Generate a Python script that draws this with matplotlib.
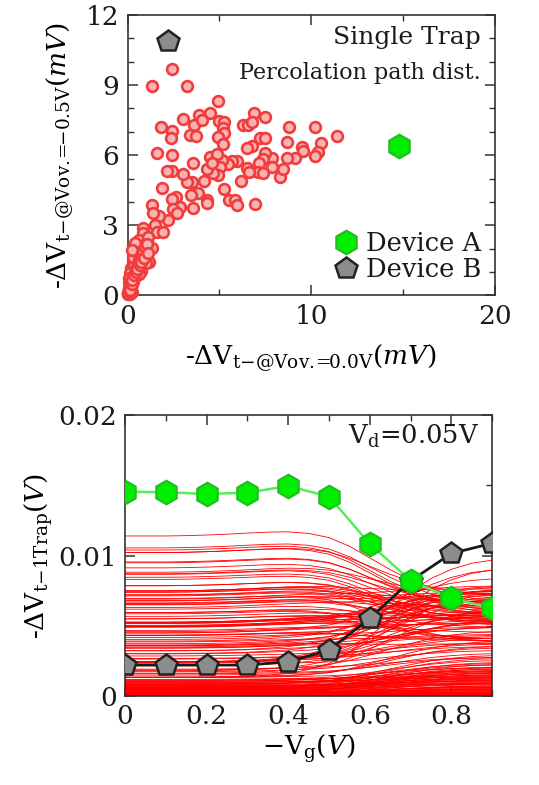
import numpy as np
import matplotlib
matplotlib.use("Agg")
import matplotlib.pyplot as plt
from matplotlib.ticker import MultipleLocator, FixedLocator, FixedFormatter
from matplotlib.lines import Line2D

plt.rcParams['font.family'] = ['DejaVu Serif']
plt.rcParams['mathtext.fontset'] = 'dejavuserif'

# ---------------- data ----------------
# Scatter: -dVt at Vov=0.0V (mV) vs -dVt at Vov=-0.5V (mV), one point per device
scatter_x = [1.33, 2.43, 3.22, 4.94, 1.80, 2.43, 2.34, 3.03, 3.91, 4.49, 3.63, 4.03, 3.40, 3.72,
             5.00, 5.25, 5.18, 5.25, 4.94, 6.30, 6.58, 6.90, 7.48, 6.76, 7.21, 7.48, 6.79, 6.52,
             8.81, 8.70, 10.21, 11.39, 10.54, 10.39, 10.21, 9.48, 9.54, 9.12, 8.66, 8.30, 8.45,
             7.85, 7.85, 7.48, 7.39, 7.18, 7.12, 7.39, 6.49, 6.63, 6.18, 5.94, 5.67, 5.49, 5.21,
             5.16, 5.03, 4.94, 4.67, 4.49, 4.89, 4.31, 4.58, 4.16, 3.58, 3.49, 3.22, 3.00, 2.43,
             2.16, 1.62, 2.40, 1.85, 5.25, 5.50, 5.85, 5.94, 6.94, 4.31, 4.34, 3.85, 3.43, 3.58,
             2.85, 2.63, 2.40, 2.45, 2.67, 2.22, 1.73, 1.31, 1.36, 1.49, 1.58, 1.91, 0.82, 0.82,
             0.64, 1.04, 0.58, 1.31, 0.94, 0.49, 0.31, 0.54, 0.16, 0.13, 0.09, 0.07, 0.05, 0.04,
             0.40, 0.67, 1.18, 0.99, 0.58, 0.35, 0.27, 1.13, 0.22, 0.30, 0.18, 0.45, 0.75, 0.12,
             0.25, 0.60, 0.10, 0.20, 0.08,
             0.03, 0.06, 0.11, 0.15, 0.02, 0.05, 0.09, 0.14, 0.19, 0.24, 0.04, 0.08, 0.13, 0.17,
             0.28, 0.33, 0.38, 0.43, 0.50, 0.55, 0.62, 0.70, 0.78, 0.86, 0.95, 1.05, 0.03, 0.07,
             0.12, 0.21, 0.26, 0.36, 0.47, 0.52, 0.66, 0.72, 0.88, 1.10]
scatter_y = [8.96, 9.67, 8.96, 8.33, 7.22, 7.05, 6.72, 7.55, 7.72, 7.79, 7.29, 7.51, 6.86, 6.82,
             7.48, 7.43, 7.15, 6.93, 6.76, 7.29, 7.29, 7.82, 7.62, 7.43, 6.72, 6.72, 6.39, 6.32,
             7.22, 6.58, 7.22, 6.82, 6.54, 6.15, 5.98, 6.36, 6.18, 5.86, 5.86, 5.08, 5.39,
             5.86, 5.51, 6.11, 5.82, 5.65, 5.29, 5.25, 5.44, 5.29, 4.91, 5.74, 5.76, 5.62, 6.48,
             5.79, 5.51, 5.15, 5.22, 5.94, 6.05, 5.39, 5.65, 4.91, 5.68, 4.87, 4.87, 5.19, 5.34,
             5.34, 6.08, 5.99, 4.58, 4.54, 4.08, 4.08, 3.88, 3.91, 4.08, 3.94, 4.37, 4.30, 3.72,
             3.77, 4.22, 4.11, 3.68, 3.51, 3.22, 3.40, 3.87, 3.51, 3.01, 2.73, 2.73, 2.87, 2.65,
             2.37, 2.30, 2.01, 2.01, 1.80, 1.66, 1.51, 1.23, 1.16, 0.94, 0.73, 0.51, 0.30, 0.09,
             2.23, 1.30, 1.44, 1.37, 1.73, 1.30, 1.66, 2.51, 1.94, 0.60, 0.40, 0.85, 1.05, 0.20,
             0.15, 0.90, 0.05, 0.35, 0.25,
             0.10, 0.18, 0.30, 0.45, 0.04, 0.12, 0.22, 0.38, 0.55, 0.70, 0.08, 0.16, 0.26, 0.48,
             0.62, 0.80, 0.95, 1.10, 1.20, 1.35, 1.50, 1.62, 1.75, 1.90, 2.05, 2.20, 0.06, 0.14,
             0.24, 0.50, 0.66, 0.85, 1.00, 1.12, 1.28, 1.42, 1.58, 1.80]

deviceA_xy = (14.8, 6.4)
deviceB_xy = (2.2, 10.9)

# Bottom panel
vg = [0.0, 0.1, 0.2, 0.3, 0.4, 0.5, 0.6, 0.7, 0.8, 0.9]
deviceA_dvt = [0.01454, 0.0145, 0.01438, 0.01447, 0.01495, 0.01419, 0.01082, 0.00821, 0.00695, 0.00624]
deviceB_dvt = [0.0022, 0.0022, 0.0022, 0.0022, 0.00244, 0.00327, 0.00553, 0.0082, 0.01015, 0.01087]

# shared shape of the red single-trap curves: transition from the
# Vg=0 value (scatter x) to the Vg=0.9 value (scatter y)
vg_fine = [0.0, 0.05, 0.1, 0.15, 0.2, 0.25, 0.3, 0.35, 0.4, 0.45, 0.5, 0.55, 0.6, 0.65,
           0.7, 0.75, 0.8, 0.85, 0.9]
transition = [0, 0, 0, 0, 0, 0.002, 0.005, 0.015, 0.03, 0.065, 0.12, 0.23, 0.38, 0.54,
              0.69, 0.82, 0.91, 0.97, 1.0]
bump = [0, 0, 0, 0.002, 0.006, 0.012, 0.02, 0.03, 0.038, 0.042, 0.038, 0.028, 0.015, 0.006,
        0.002, 0, 0, 0, 0]

top_xticks = [0, 10, 20]
top_yticks = [0, 3, 6, 9, 12]
bot_xticks = [0, 0.2, 0.4, 0.6, 0.8]
bot_xticklabels = ['0', '0.2', '0.4', '0.6', '0.8']
bot_yticks = [0, 0.01, 0.02]
bot_yticklabels = ['0', '0.01', '0.02']

# ---------------- figure ----------------
W, H = 539, 785
fig = plt.figure(figsize=(W / 100, H / 100), dpi=100)

def axes_px(l, r, t, b):
    return fig.add_axes([l / W, 1 - b / H, (r - l) / W, (b - t) / H])

ax1 = axes_px(127.7, 494.7, 15, 295.3)
ax2 = axes_px(125, 492.3, 415, 696)

spine_c = '#333333'
for ax in (ax1, ax2):
    for s in ax.spines.values():
        s.set_color(spine_c)
        s.set_linewidth(1.2)
    ax.tick_params(which='both', direction='in', top=True, right=True, colors=spine_c,
                   labelcolor='#1a1a1a', labelsize=19, pad=6)
    ax.tick_params(which='major', length=7, width=1.1)
    ax.tick_params(which='minor', length=4, width=1.0)

# ---- top panel ----
ax1.scatter(scatter_x, scatter_y, s=60, facecolor='#f9b3b3', edgecolor='#f23c3c',
            linewidths=1.9, zorder=3, clip_on=False)
ax1.plot([deviceA_xy[0]], [deviceA_xy[1]], marker='h', ms=17, mfc='#00ee00', mec='#22bb22',
         mew=1.5, ls='none', zorder=4)
ax1.plot([deviceB_xy[0]], [deviceB_xy[1]], marker='p', ms=16, mfc='#8c8c8c', mec='#222222',
         mew=1.8, ls='none', zorder=4)
ax1.set_xlim(0, 20)
ax1.set_ylim(0, 12)
ax1.xaxis.set_major_locator(FixedLocator(top_xticks))
ax1.yaxis.set_major_locator(FixedLocator(top_yticks))
ax1.xaxis.set_minor_locator(MultipleLocator(5))
ax1.yaxis.set_minor_locator(MultipleLocator(1))
ax1.set_xlabel(r'-$\Delta\mathrm{V}_{\mathrm{t{-}@Vov.\!\!=\!\!0.0V}}(mV)$', fontsize=19, labelpad=10)
ax1.set_ylabel(r'-$\Delta\mathrm{V}_{\mathrm{t{-}@Vov.\!\!=\!\!{-}0.5V}}(mV)$', fontsize=19, labelpad=8)
ax1.text(0.962, 0.918, 'Single Trap', transform=ax1.transAxes, ha='right', va='center',
         fontsize=18, color='#1a1a1a')
ax1.text(0.962, 0.793, 'Percolation path dist.', transform=ax1.transAxes, ha='right',
         va='center', fontsize=16, color='#1a1a1a')
handles = [Line2D([], [], marker='h', ms=17, mfc='#00ee00', mec='#22bb22', mew=1.5, ls='none'),
           Line2D([], [], marker='p', ms=16, mfc='#8c8c8c', mec='#222222', mew=1.8, ls='none')]
ax1.legend(handles, ['Device A', 'Device B'], loc='lower right', frameon=False, fontsize=18.5,
           handletextpad=0.2, borderaxespad=0.1, labelspacing=0.05, handlelength=1.2,
           labelcolor='#1a1a1a')

# ---- bottom panel ----
trans = np.array(transition)
bmp = np.array(bump)
for x0, y0 in zip(scatter_x, scatter_y):
    v0 = x0 / 1000.0
    v1 = y0 / 1000.0
    curve = v0 + trans * (v1 - v0) + bmp * v0
    ax2.plot(vg_fine, curve, color='#ff0000', lw=0.6, zorder=2)

ax2.plot(vg, deviceB_dvt, color='#1a1a1a', lw=2.0, marker='p', ms=16, mfc='#8c8c8c',
         mec='#222222', mew=1.8, zorder=4)
ax2.plot(vg, deviceA_dvt, color='#55ee55', lw=1.8, marker='h', ms=17, mfc='#00ee00',
         mec='#22bb22', mew=1.5, zorder=5)
ax2.set_xlim(0, 0.9)
ax2.set_ylim(0, 0.02)
ax2.xaxis.set_major_locator(FixedLocator(bot_xticks))
ax2.xaxis.set_major_formatter(FixedFormatter(bot_xticklabels))
ax2.yaxis.set_major_locator(FixedLocator(bot_yticks))
ax2.yaxis.set_major_formatter(FixedFormatter(bot_yticklabels))
ax2.xaxis.set_minor_locator(MultipleLocator(0.1))
ax2.yaxis.set_minor_locator(MultipleLocator(0.005))
ax2.set_xlabel(r'$-\mathrm{V_g}(V)$', fontsize=19, labelpad=2)
ax2.set_ylabel(r'-$\Delta\mathrm{V}_{\mathrm{t{-}1Trap}}(V)$', fontsize=19, labelpad=2)
ax2.text(0.965, 0.925, r'$\mathrm{V_d}$=0.05V', transform=ax2.transAxes, ha='right',
         va='center', fontsize=18.5, color='#1a1a1a')

fig.savefig('out.png', dpi=100)
